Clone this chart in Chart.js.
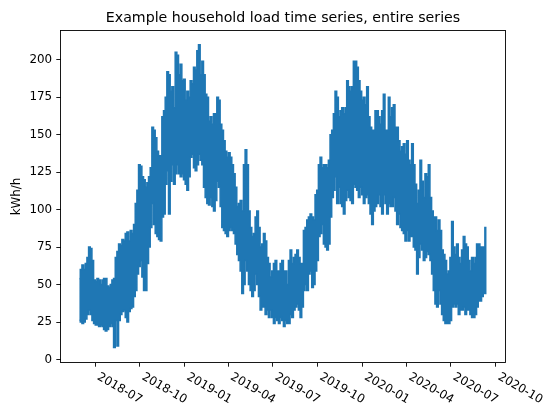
<!DOCTYPE html>
<html lang="en">
<head>
<meta charset="UTF-8">
<title>Example household load time series</title>
<style>
  html, body { margin: 0; padding: 0; background: #fff; }
</style>
</head>
<body>
<canvas id="myChart" width="547" height="408"></canvas>

<script src="https://cdn.jsdelivr.net/npm/chart.js"></script>
<script>
// ---- data (kWh/h), one envelope sample every stepDays ----
const titleText = 'Example household load time series, entire series'
const yLabelText = 'kWh/h'
const startDate = '2018-05-30'
const stepDays = 3.42

// upper edge of the hourly series
const loadHigh = [
  54,60,63,60,64,68,75,74,66,53,52,54,53,50,53,54,54,49,48,50,53,54,68,72,77,76,80,79,84,85,79,86,84,90,104,113,130,129,122,120,
  115,118,122,128,155,153,148,139,136,136,162,166,175,192,190,179,182,168,205,203,190,197,186,187,173,179,175,186,184,195,193,206,210,190,199,190,177,175,159,162,157,164,
  164,175,173,157,153,146,139,135,138,135,130,124,115,102,104,106,99,130,140,130,99,88,82,84,95,99,88,75,77,84,79,68,64,55,59,64,66,59,59,64,66,59,
  59,50,66,73,64,68,70,73,68,64,64,86,88,93,95,97,95,93,110,113,130,135,128,130,130,128,133,150,153,164,179,175,162,166,168,164,168,186,182,179,182,199,
  199,195,186,179,173,175,170,182,162,155,153,153,166,166,162,157,166,177,153,153,175,162,168,170,155,155,146,139,142,144,137,146,133,130,144,130,117,104,113,133,119,108,
  124,122,130,108,99,95,95,86,93,86,73,70,66,57,59,68,92,75,70,77,68,64,73,82,77,75,66,59,68,64,68,77,77,75,75,75,88
]

// lower edge of the hourly series
const loadLow = [
  26,25,24,25,27,30,33,30,26,24,23,23,22,23,22,20,19,20,22,24,22,8,26,9,26,30,32,33,28,25,32,34,35,42,46,57,62,66,55,46,
  46,64,75,88,104,90,84,82,80,79,95,97,117,126,97,119,130,117,124,130,124,122,124,120,117,113,122,135,137,128,126,130,137,133,130,115,108,104,103,108,102,99,
  106,119,115,102,88,86,84,82,86,88,86,84,77,70,66,59,44,50,66,59,50,46,42,46,57,50,42,33,35,35,30,33,28,33,28,24,28,26,24,28,26,22,
  26,24,24,30,28,33,35,37,33,28,35,46,50,46,57,59,48,50,59,66,82,84,90,77,75,73,77,95,108,113,122,104,115,104,102,97,106,113,108,106,104,117,
  115,113,108,115,110,104,108,110,104,97,90,99,102,104,110,102,97,110,104,97,104,102,102,108,99,90,97,88,86,84,79,86,79,82,82,75,73,57,68,77,73,66,
  68,72,70,66,57,46,37,35,46,37,30,26,24,24,24,26,35,37,35,37,30,33,33,35,30,33,33,30,28,28,30,35,39,39,42,44,44
]

const xTickLabels = ['2018-07','2018-10','2019-01','2019-04','2019-07','2019-10','2020-01','2020-04','2020-07','2020-10']
const yTickValues = [0,25,50,75,100,125,150,175,200]

// ---- helpers ----
const dayOf = s => Date.parse(s + (s.length == 7 ? '-01' : '') + 'T00:00:00Z') / 864e5
const day0 = dayOf(startDate)
const xTickDays = xTickLabels.map(dayOf)

// closed outline: along the upper edge, then back along the lower edge
const highPts = loadHigh.map((v, i) => ({ x: day0 + i * stepDays, y: v }))
const lowPts = loadLow.map((v, i) => ({ x: day0 + i * stepDays, y: v }))
const outline = highPts.concat(lowPts.slice().reverse())

const blue = '#1f77b4'
const FONT = 'DejaVu Sans'

const decor = {
  id: 'decor',
  afterDraw(chart) {
    const { ctx, chartArea: a } = chart
    const xs = chart.scales.x
    ctx.save()
    // axes frame
    ctx.strokeStyle = '#000'
    ctx.lineWidth = 0.9
    ctx.strokeRect(a.left, a.top, a.right - a.left, a.bottom - a.top)

    ctx.fillStyle = '#000'
    // title
    ctx.font = '14.2px "' + FONT + '"'
    ctx.textAlign = 'center'
    ctx.textBaseline = 'alphabetic'
    ctx.fillText(titleText, (a.left + a.right) / 2, 21.5)

    // y label
    ctx.save()
    ctx.font = '11.9px "' + FONT + '"'
    ctx.translate(17, (a.top + a.bottom) / 2)
    ctx.rotate(-Math.PI / 2)
    ctx.textAlign = 'center'
    ctx.textBaseline = 'middle'
    ctx.fillText(yLabelText, 0, 0)
    ctx.restore()

    // x tick labels, rotated -30deg, left aligned at the tick
    const f = 11.9, h = f * 1.0, desc = f * 0.24
    const ang = Math.PI / 6
    const top = a.bottom + 8.4
    ctx.font = f + 'px "' + FONT + '"'
    ctx.textAlign = 'left'
    ctx.textBaseline = 'alphabetic'
    xTickLabels.forEach((lab, i) => {
      const px = xs.getPixelForValue(xTickDays[i])
      ctx.save()
      ctx.translate(px, top + h * Math.cos(ang))
      ctx.rotate(ang)
      ctx.fillText(lab, 0, -desc)
      ctx.restore()
    })
    ctx.restore()
  }
}

const ctx = document.getElementById('myChart')
const myChart = new Chart(ctx, {
  type: 'line',
  data: {
    datasets: [{
      label: 'load',
      data: outline,
      borderColor: blue,
      backgroundColor: blue,
      borderWidth: 1.5,
      pointRadius: 0,
      fill: 'shape',
      stepped: 'middle'
    }]
  },
  options: {
    responsive: false,
    animation: false,
    events: [],
    layout: { padding: { top: 30.5, right: 41.5, left: 0, bottom: 0 } },
    plugins: { legend: { display: false }, tooltip: { enabled: false }, title: { display: false } },
    scales: {
      x: {
        type: 'linear',
        min: 17642.1,
        max: 18556.1,
        afterBuildTicks: s => { s.ticks = xTickDays.map(v => ({ value: v })) },
        afterFit: s => { s.height = 45.5 },
        ticks: { display: false, autoSkip: false },
        grid: { drawOnChartArea: false, drawTicks: true, tickLength: 4.2, color: '#000', lineWidth: 0.9 },
        border: { display: false }
      },
      y: {
        min: -2,
        max: 219.5,
        afterBuildTicks: s => { s.ticks = yTickValues.map(v => ({ value: v })) },
        afterFit: s => { s.width = 60.5 },
        ticks: { color: '#000', padding: 4.2, font: { family: FONT, size: 11.9 } },
        grid: { drawOnChartArea: false, drawTicks: true, tickLength: 4.2, color: '#000', lineWidth: 0.9 },
        border: { display: false }
      }
    }
  },
  plugins: [decor]
})
</script>
</body>
</html>
